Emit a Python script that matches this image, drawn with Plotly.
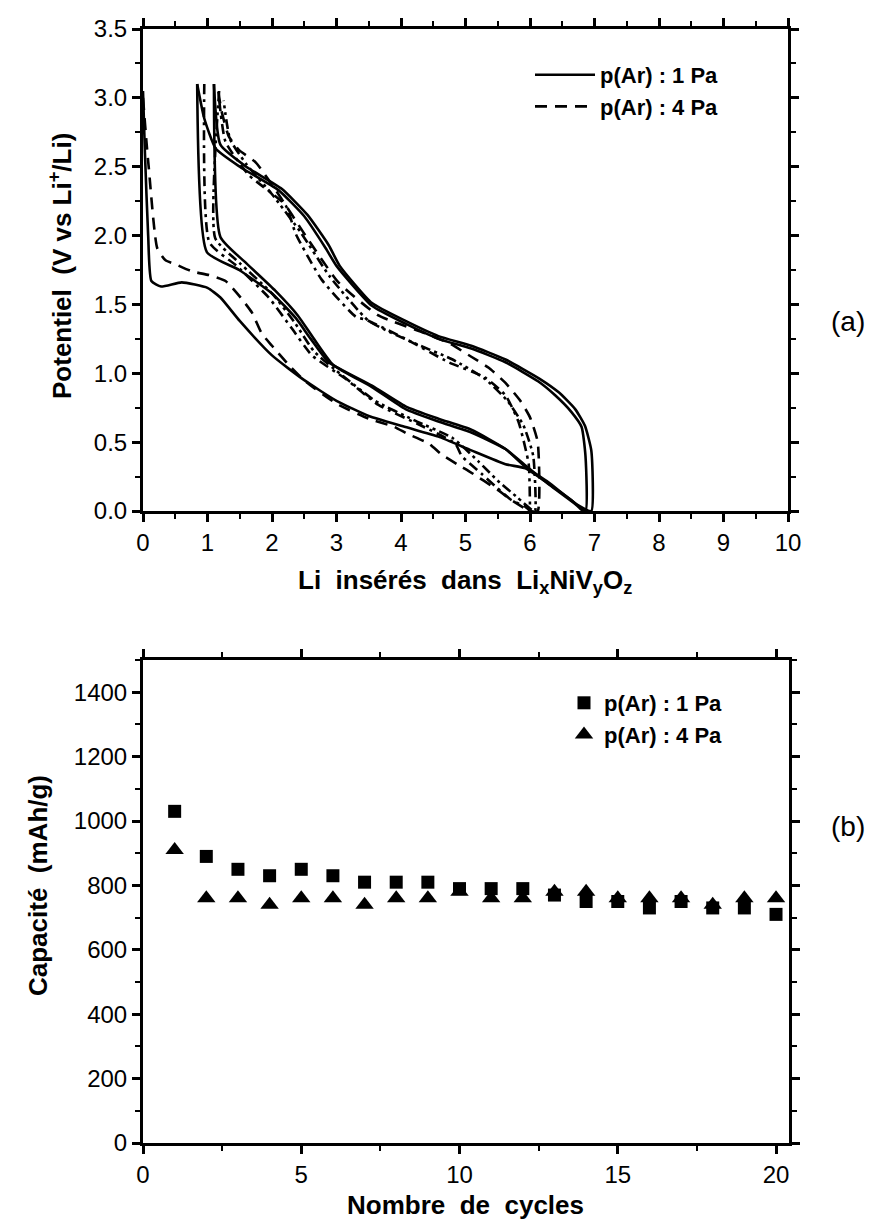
import plotly.graph_objects as go

# ---------------- (a) potential curves ----------------
# p(Ar) = 1 Pa (solid), three successive half-cycles groups
s1_x = [0, 0.03, 0.08, 0.13, 0.28, 0.6, 1.0, 1.2, 1.5, 2.0, 2.5, 3.0, 3.5, 4.07, 4.58, 5.09, 5.62, 5.93, 6.28, 6.64, 6.86,
        6.86, 6.8, 6.64, 6.39, 6.13, 5.62, 5.09, 4.58, 4.07, 3.55, 3.0, 2.83, 2.5, 2.1, 1.5, 1.13, 0.95, 0.84]
s1_y = [3.05, 2.6, 2.0, 1.67, 1.63, 1.66, 1.62, 1.55, 1.38, 1.13, 0.95, 0.80, 0.69, 0.61, 0.54, 0.44, 0.34, 0.31, 0.20, 0.08, 0.0,
        0.40, 0.61, 0.72, 0.84, 0.94, 1.08, 1.18, 1.25, 1.36, 1.49, 1.78, 1.91, 2.14, 2.33, 2.50, 2.63, 2.85, 3.10]
s2_x = [0.84, 0.99, 1.49, 2.0, 2.37, 2.6, 2.88, 3.55, 4.07, 4.58, 5.09, 5.62, 5.93, 6.28, 6.75, 6.95,
        6.95, 6.85, 6.7, 6.45, 6.15, 5.62, 5.09, 4.58, 4.07, 3.55, 3.05, 2.88, 2.55, 2.15, 1.6, 1.2, 1.1]
s2_y = [3.10, 1.88, 1.75, 1.58, 1.40, 1.25, 1.08, 0.91, 0.76, 0.67, 0.59, 0.45, 0.32, 0.21, 0.04, 0.0,
        0.44, 0.62, 0.74, 0.86, 0.96, 1.10, 1.20, 1.27, 1.38, 1.51, 1.78, 1.93, 2.15, 2.34, 2.50, 2.66, 3.10]
s3_x = [1.1, 1.2, 1.6, 2.05, 2.4, 2.65, 2.95, 3.55, 4.07, 4.58, 5.09, 5.62, 5.93, 6.3, 6.7, 6.82]
s3_y = [3.10, 1.99, 1.80, 1.60, 1.42, 1.25, 1.06, 0.90, 0.74, 0.65, 0.57, 0.45, 0.33, 0.19, 0.05, 0.0]

# p(Ar) = 4 Pa (dashed styles)
d1_x = [0, 0.05, 0.09, 0.22, 0.35, 0.51, 0.76, 1.05, 1.28, 1.53, 1.69, 1.84, 2.0, 2.3, 2.52, 3.0, 3.5, 3.9, 4.1, 4.43, 4.63,
        4.94, 5.05, 5.51, 5.71, 6.0,
        6.12, 6.12, 6.0, 5.85, 5.62, 5.36, 5.09, 4.74, 4.32, 3.65, 3.03, 2.52, 2.1, 1.75, 1.49, 1.33, 1.22, 1.15]
d1_y = [3.0, 2.7, 2.49, 1.91, 1.82, 1.79, 1.74, 1.71, 1.67, 1.54, 1.44, 1.29, 1.20, 1.04, 0.94, 0.78, 0.67, 0.61, 0.56, 0.49, 0.41,
        0.32, 0.29, 0.15, 0.08, 0.0,
        0.0, 0.50, 0.68, 0.80, 0.93, 1.04, 1.12, 1.22, 1.30, 1.42, 1.66, 2.00, 2.30, 2.53, 2.62, 2.72, 2.90, 3.10]
d2_x = [0.95, 1.03, 1.45, 1.95, 2.3, 2.62, 3.14, 3.65, 4.27, 4.84, 4.94, 5.25, 5.46, 5.71, 5.93, 6.0,
        6.0, 5.98, 5.82, 5.62, 5.3, 4.74, 4.07, 3.45, 3.3, 2.77, 2.37, 2.21, 1.64, 1.28, 1.18]
d2_y = [3.10, 1.95, 1.78, 1.55, 1.33, 1.13, 0.96, 0.77, 0.63, 0.49, 0.40, 0.27, 0.18, 0.08, 0.03, 0.0,
        0.0, 0.34, 0.65, 0.84, 0.97, 1.08, 1.25, 1.39, 1.41, 1.68, 2.01, 2.22, 2.44, 2.68, 2.99]
d3_x = [1.18, 1.12, 1.5, 2.0, 2.35, 2.65, 3.1, 3.6, 4.2, 4.8, 5.2, 5.5, 5.8, 6.05,
        6.08, 6.05, 5.9, 5.65, 5.3, 4.8, 4.2, 3.5, 2.9, 2.45, 2.0, 1.6, 1.35, 1.25]
d3_y = [3.05, 1.98, 1.80, 1.58, 1.37, 1.16, 0.98, 0.80, 0.66, 0.53, 0.36, 0.22, 0.10, 0.0,
        0.0, 0.40, 0.62, 0.80, 0.96, 1.10, 1.22, 1.38, 1.70, 2.02, 2.30, 2.52, 2.70, 2.98]

# ---------------- (b) capacity vs cycles ----------------
cycles = list(range(1, 21))
cap_1pa = [1030, 890, 850, 830, 850, 830, 810, 810, 810, 790, 790, 790, 770, 750, 750, 730, 750, 730, 730, 710]
cap_4pa = [910, 760, 760, 740, 760, 760, 740, 760, 760, 780, 760, 760, 780, 780, 760, 760, 760, 740, 760, 760]

FONT = "Liberation Sans, Arial, sans-serif"
LW = 2.6
fig = go.Figure()

def line(x, y, dash, name, show):
    fig.add_trace(go.Scatter(x=x, y=y, mode="lines", name=name, showlegend=show, legendgroup=name,
                             line=dict(color="black", width=LW, dash=dash, shape="spline", smoothing=0.5),
                             xaxis="x", yaxis="y", legend="legend"))

line(s1_x, s1_y, "solid", "p(Ar) : 1 Pa", True)
line(s2_x, s2_y, "solid", "p(Ar) : 1 Pa", False)
line(s3_x, s3_y, "solid", "p(Ar) : 1 Pa", False)
line(d1_x, d1_y, "12px,8px", "p(Ar) : 4 Pa", True)
line(d2_x, d2_y, "10px,5px,3px,5px", "p(Ar) : 4 Pa", False)
line(d3_x, d3_y, "10px,4px,3px,4px,3px,4px", "p(Ar) : 4 Pa", False)

fig.add_trace(go.Scatter(x=cycles, y=cap_1pa, mode="markers", name="p(Ar) : 1 Pa",
                         marker=dict(symbol="square", size=13, color="black"),
                         xaxis="x2", yaxis="y2", legend="legend2"))
fig.add_trace(go.Scatter(x=cycles, y=cap_4pa, mode="markers", name="p(Ar) : 4 Pa",
                         marker=dict(symbol="triangle-up", size=16, color="black"),
                         xaxis="x2", yaxis="y2", legend="legend2"))

W, H = 888, 1223
def px(v): return v / W
def py(v): return 1 - v / H

axcommon = dict(showline=True, linecolor="black", linewidth=3, mirror="allticks", ticks="outside",
                ticklen=8, tickwidth=2.5, tickcolor="black", showgrid=False, zeroline=False, automargin=False,
                tickfont=dict(family=FONT, size=24, color="black"))
minor_style = dict(ticklen=5, tickwidth=2, ticks="outside", tickcolor="black")

TOP_Y0, TOP_Y1 = 21, 503
BOT_Y0, BOT_Y1 = 652, 1135

fig.update_layout(
    template="none",
    width=W, height=H, margin=dict(l=0, r=0, t=0, b=0, autoexpand=False),
    paper_bgcolor="white", plot_bgcolor="white",
    font=dict(family=FONT, color="black"),
    xaxis=dict(axcommon, domain=[px(135), px(780)], range=[0, 10], dtick=1, anchor="y", ticklabelstandoff=0,
               minor=dict(minor_style, dtick=0.5)),
    yaxis=dict(axcommon, domain=[py(TOP_Y1), py(TOP_Y0)], range=[0, 3.5], dtick=0.5, tickformat=".1f", anchor="x",
               minor=dict(minor_style, dtick=0.25)),
    xaxis2=dict(axcommon, domain=[px(135), px(781)], range=[0, 20.41], dtick=5, anchor="y2", ticklabelstandoff=0,
                minor=dict(minor_style, dtick=2.5)),
    yaxis2=dict(axcommon, domain=[py(BOT_Y1), py(BOT_Y0)], range=[0, 1500], dtick=200, anchor="x2",
                minor=dict(minor_style, dtick=100)),
    legend=dict(x=px(522), y=py(46), xanchor="left", yanchor="top", bgcolor="rgba(0,0,0,0)",
                font=dict(family=FONT, size=22, color="black", weight="bold"), itemwidth=60, tracegroupgap=0),
    legend2=dict(x=px(556), y=py(674), xanchor="left", yanchor="top", bgcolor="rgba(0,0,0,0)",
                 font=dict(family=FONT, size=22, color="black", weight="bold"), tracegroupgap=0),
)

annots = [
    dict(text="<b>Li  insérés  dans  Li<sub>x</sub>NiV<sub>y</sub>O<sub>z</sub></b>", x=px(457), y=py(TOP_Y1 + 70),
         font=dict(size=26)),
    dict(text="<b>Potentiel  (V vs Li<sup>+</sup>/Li)</b>", x=px(52), y=py(258), textangle=-90,
         font=dict(size=26)),
    dict(text="<b>Nombre  de  cycles</b>", x=px(457), y=py(BOT_Y1 + 62), font=dict(size=26)),
    dict(text="<b>Capacité  (mAh/g)</b>", x=px(30), y=py(878), textangle=-90, font=dict(size=26)),
    dict(text="(a)", x=px(840), y=py(313), font=dict(size=28)),
    dict(text="(b)", x=px(840), y=py(818), font=dict(size=28)),
]
for a in annots:
    a.update(xref="paper", yref="paper", showarrow=False, xanchor="center", yanchor="middle")
    a["font"] = dict(family=FONT, color="black", size=a["font"]["size"])
    fig.add_annotation(**a)

fig.write_html("out.html")
